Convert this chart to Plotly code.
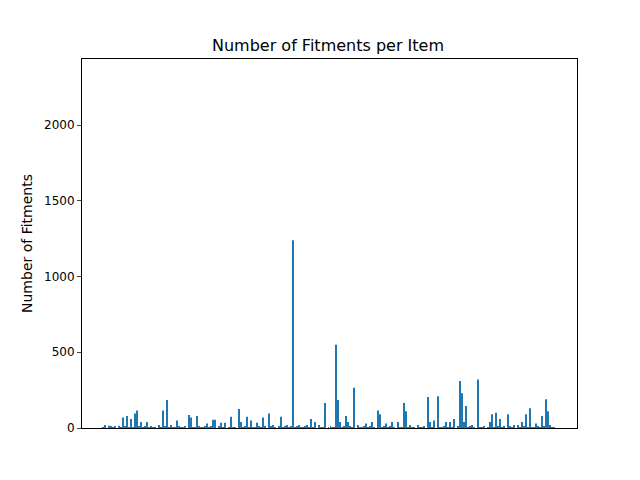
import plotly.graph_objects as go

fitments = [
    3, 20, 0, 15, 12, 2, 10, 0, 15, 4,
    70, 8, 80, 5, 60, 2, 95, 115, 9, 40,
    3, 8, 40, 5, 12, 2, 6, 0, 20, 4,
    115, 8, 185, 5, 20, 2, 6, 50, 9, 4,
    3, 8, 0, 85, 70, 2, 6, 80, 9, 4,
    3, 8, 30, 5, 12, 55, 55, 0, 9, 35,
    3, 35, 0, 5, 75, 2, 6, 0, 125, 40,
    3, 8, 75, 5, 50, 2, 6, 35, 9, 4,
    70, 8, 0, 95, 12, 20, 6, 0, 9, 75,
    3, 8, 20, 5, 12, 1240, 6, 10, 20, 4,
    3, 8, 20, 5, 60, 2, 40, 0, 20, 4,
    3, 165, 0, 5, 15, 2, 6, 550, 185, 40,
    3, 8, 80, 40, 12, 2, 265, 0, 20, 4,
    3, 8, 30, 5, 12, 40, 6, 0, 115, 90,
    3, 8, 30, 5, 12, 40, 6, 0, 40, 4,
    3, 165, 110, 5, 20, 2, 6, 0, 20, 4,
    3, 8, 0, 205, 40, 2, 50, 0, 210, 4,
    3, 8, 40, 5, 40, 2, 60, 0, 9, 310,
    230, 40, 145, 5, 12, 20, 6, 0, 320, 4,
    3, 8, 0, 5, 40, 90, 6, 100, 9, 60,
    3, 8, 0, 90, 12, 2, 20, 0, 20, 4,
    40, 8, 90, 5, 130, 2, 6, 30, 9, 4,
    80, 8, 190, 110, 20, 2, 6, 0,
]
items = list(range(len(fitments)))

fig = go.Figure(go.Bar(x=items, y=fitments, marker_color="#1f77b4",
                       marker_line_width=0, width=0.5))
fig.update_layout(
    width=640, height=480,
    margin=dict(l=74, r=71, t=51, b=60),
    plot_bgcolor="white", paper_bgcolor="white",
    font=dict(family="DejaVu Sans", size=12, color="black"),
    title=dict(text="Number of Fitments per Item", x=0.5, xanchor="center",
               y=1 - 37 / 480, yanchor="middle", font=dict(size=16)),
    showlegend=False,
)
fig.update_xaxes(range=[-10.5, 237.5], showticklabels=False, ticks="",
                 showgrid=False, showline=True, linecolor="black", mirror=True)
fig.update_yaxes(range=[0, 2436], tickvals=[0, 500, 1000, 1500, 2000],
                 ticks="outside", ticklen=4, showgrid=False, zeroline=False,
                 showline=True, linecolor="black", mirror=True,
                 title=dict(text="Number of Fitments", standoff=8))
fig.write_html("out.html")
